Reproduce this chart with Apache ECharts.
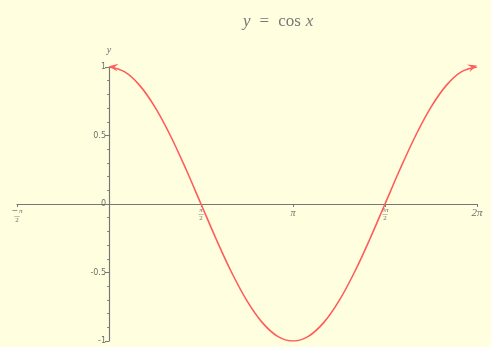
<!DOCTYPE html>
<html>
<head>
<meta charset="utf-8">
<script src="https://cdn.jsdelivr.net/npm/echarts@6/dist/echarts.min.js"></script>
<style>
  html, body { margin: 0; padding: 0; background: #ffffe0; }
  #chart { width: 491px; height: 347px; }
</style>
</head>
<body>
<div id="chart"></div>
<script>
// Sampled points of the curve: angle in degrees, value on the y axis
const angleDeg = [0, 15, 30, 45, 60, 75, 90, 105, 120, 135, 150, 165, 180,
                  195, 210, 225, 240, 255, 270, 285, 300, 315, 330, 345, 360];
const yValues = [1, 0.966, 0.866, 0.707, 0.5, 0.259, 0, -0.259, -0.5, -0.707, -0.866, -0.966, -1,
                 -0.966, -0.866, -0.707, -0.5, -0.259, 0, 0.259, 0.5, 0.707, 0.866, 0.966, 1];
// x tick labels, indexed by multiples of pi/2 (from -pi/2 up to 2pi)
const xTickLabels = {
  '-1': '{neg|−}{fn|π}\n{fb|—}\n{fd|2}',
  '1': '{fn|π}\n{fb|—}\n{fd|2}',
  '2': '{pi|π}',
  '3': '{fn|3π}\n{fb|—}\n{fd|2}',
  '4': '{big|2π}'
};
const yTickLabels = { '-1': '-1', '-0.5': '-0.5', '0': '0', '0.5': '0.5', '1': '1' };

const RED = '#ff5c5c';
const GREY = '#6e6e6e';
const HALF_PI = Math.PI / 2;

const X_MIN = -HALF_PI, X_MAX = 2 * Math.PI, Y_MIN = -1, Y_MAX = 1;
const GRID = { left: 17, right: 14, top: 67, bottom: 6 };
const W = 491, H = 347;
// shift the axes from the grid edges onto the lines x = 0 and y = 0
const gridW = W - GRID.left - GRID.right;
const gridH = H - GRID.top - GRID.bottom;
const yAxisShift = -gridW * (0 - X_MIN) / (X_MAX - X_MIN);
const xAxisShift = -gridH * (0 - Y_MIN) / (Y_MAX - Y_MIN);

const points = angleDeg.map((d, i) => {
  const item = { value: [d * Math.PI / 180, yValues[i]] };
  if (i === 0) {
    Object.assign(item, {
      symbol: 'path://M10,0 L0,5 L10,10 L6,5 Z',
      symbolSize: [9, 8], symbolOffset: [4.5, 0], symbolRotate: -8,
      itemStyle: { color: RED, borderWidth: 0 }
    });
  } else if (i === angleDeg.length - 1) {
    Object.assign(item, {
      symbol: 'path://M0,0 L10,5 L0,10 L4,5 Z',
      symbolSize: [9, 8], symbolOffset: [-4.5, 0], symbolRotate: 18,
      itemStyle: { color: RED, borderWidth: 0 }
    });
  } else {
    item.symbol = 'none';
  }
  return item;
});

const chart = echarts.init(document.getElementById('chart'), null, { renderer: 'canvas' });
chart.setOption({
  backgroundColor: '#ffffe0',
  animation: false,
  title: {
    text: '{i|y}{s|=}{r|cos}{i|x}',
    left: 238, top: 8,
    textStyle: {
      fontWeight: 'normal',
      rich: {
        i: { fontFamily: 'Liberation Serif', fontStyle: 'italic', fontWeight: 'normal', fontSize: 17, color: '#777' },
        s: { fontFamily: 'Liberation Serif', fontWeight: 'normal', fontSize: 17, color: '#777', padding: [0, 9, 0, 9] },
        r: { fontFamily: 'Liberation Serif', fontWeight: 'normal', fontSize: 17, color: '#777', padding: [0, 5, 0, 0] }
      }
    }
  },
  grid: Object.assign({ outerBoundsMode: 'none', containLabel: false }, GRID),
  xAxis: {
    type: 'value',
    min: X_MIN, max: X_MAX, interval: HALF_PI,
    position: 'bottom',
    offset: xAxisShift,
    axisLine: { onZero: false, lineStyle: { color: '#777', width: 1.2 } },
    axisTick: { show: true, length: 3, lineStyle: { color: '#777' } },
    splitLine: { show: false },
    axisLabel: {
      margin: 3,
      showMinLabel: true, showMaxLabel: true,
      color: GREY,
      formatter: v => xTickLabels[String(Math.round(v / HALF_PI))] || '',
      rich: {
        neg: { fontFamily: 'DejaVu Sans', fontSize: 8, color: GREY, padding: [0, 1, 0, 0] },
        fn: { fontFamily: 'Liberation Serif', fontStyle: 'italic', fontSize: 7, color: GREY, lineHeight: 6 },
        fb: { fontFamily: 'DejaVu Sans', fontSize: 6, color: GREY, lineHeight: 2 },
        fd: { fontFamily: 'Liberation Serif', fontSize: 7, color: GREY, lineHeight: 7 },
        pi: { fontFamily: 'Liberation Serif', fontStyle: 'italic', fontSize: 10, color: GREY, lineHeight: 12 },
        big: { fontFamily: 'Liberation Serif', fontStyle: 'italic', fontSize: 11, color: GREY, lineHeight: 12 }
      }
    }
  },
  yAxis: {
    type: 'value',
    min: Y_MIN, max: Y_MAX, interval: 0.5,
    position: 'left',
    offset: yAxisShift,
    name: 'y',
    nameLocation: 'end',
    nameGap: 12,
    nameTextStyle: { fontFamily: 'Liberation Serif', fontStyle: 'italic', fontSize: 10, color: GREY },
    axisLine: { onZero: false, lineStyle: { color: '#777', width: 1.2 } },
    axisTick: { show: true, length: 4, lineStyle: { color: '#777' } },
    minorTick: { show: true, splitNumber: 5, length: 2, lineStyle: { color: '#888' } },
    splitLine: { show: false },
    axisLabel: {
      margin: 3,
      fontFamily: 'DejaVu Sans',
      fontSize: 8,
      color: GREY,
      formatter: v => yTickLabels[String(Math.round(v * 2) / 2)] || ''
    }
  },
  series: [{
    type: 'line',
    data: points,
    smooth: 0.35,
    showSymbol: true,
    lineStyle: { color: RED, width: 1.6 },
    itemStyle: { color: RED },
    z: 5
  }]
});
</script>
</body>
</html>
